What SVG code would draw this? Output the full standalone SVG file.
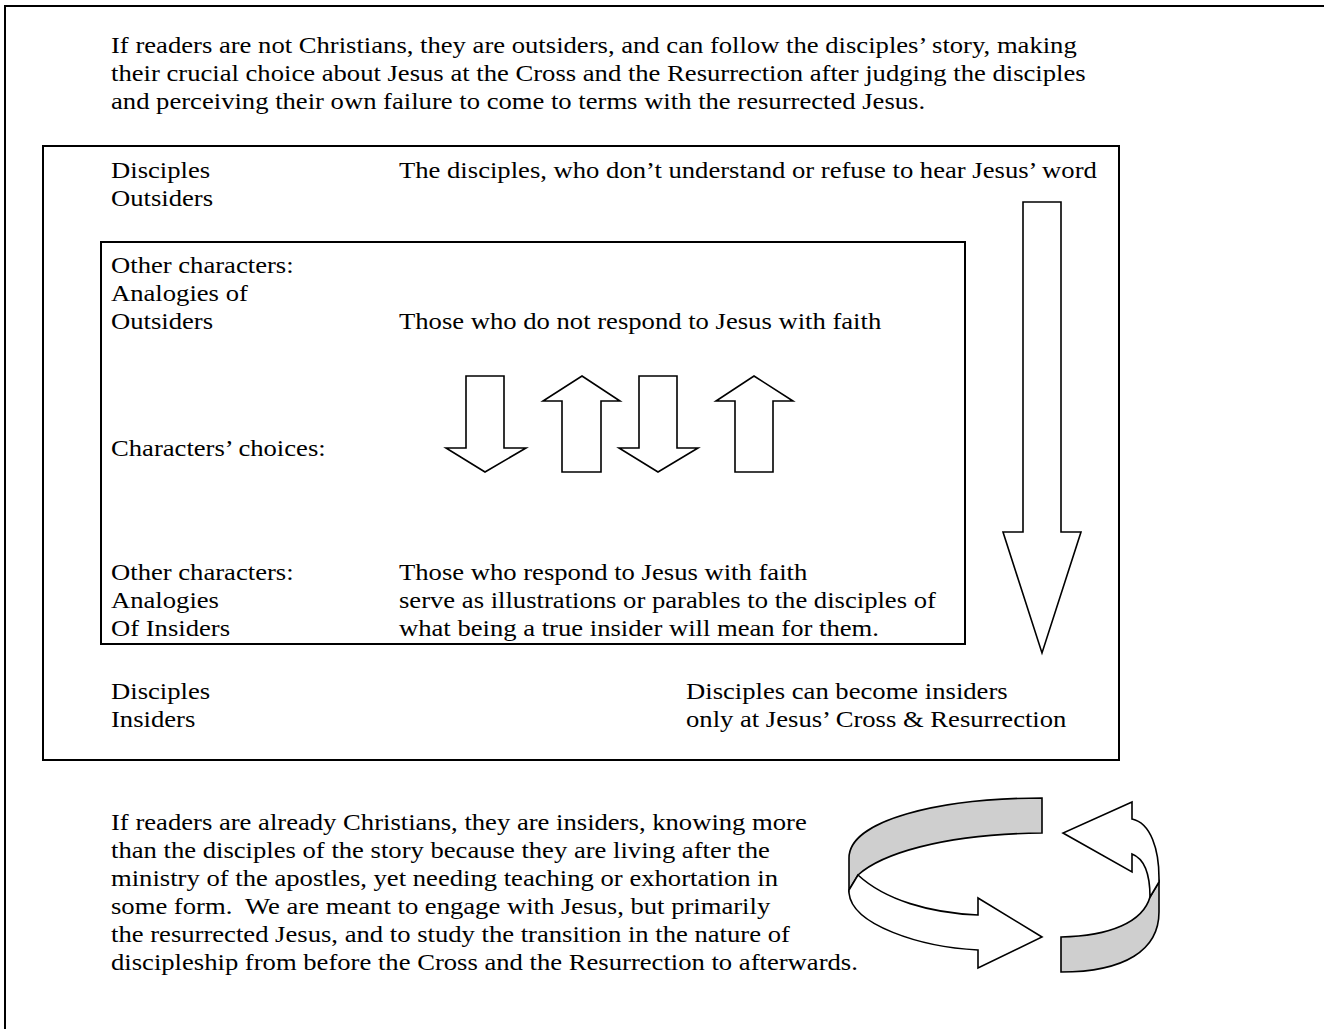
<svg xmlns="http://www.w3.org/2000/svg" width="1324" height="1029" viewBox="0 0 1324 1029">
<style>
  .t { font-family: "Liberation Serif", "Times New Roman", serif; font-size: 24px; fill: #000; }
  .frame { fill: none; stroke: #000; stroke-width: 2; }
  .arrow { fill: #fff; stroke: #000; stroke-width: 1.6; stroke-linejoin: miter; }
  .band { fill: #cfcfcf; stroke: #000; stroke-width: 1.6; stroke-linejoin: miter; }
</style>
<rect x="0" y="0" width="1324" height="1029" fill="#fff"/>

<g id="outer-frame">
  <rect class="frame" x="5" y="6" width="1340" height="1060"/>
</g>

<g id="top-paragraph">
  <text class="t" transform="translate(111,53) scale(1.11,1)">If readers are not Christians, they are outsiders, and can follow the disciples’ story, making</text>
  <text class="t" transform="translate(111,81) scale(1.11,1)">their crucial choice about Jesus at the Cross and the Resurrection after judging the disciples</text>
  <text class="t" transform="translate(111,109) scale(1.11,1)">and perceiving their own failure to come to terms with the resurrected Jesus.</text>
</g>

<g id="middle-box">
  <rect class="frame" x="43" y="146" width="1076" height="614"/>
  <text class="t" transform="translate(111,178) scale(1.11,1)">Disciples</text>
  <text class="t" transform="translate(111,206) scale(1.11,1)">Outsiders</text>
  <text class="t" transform="translate(399,178) scale(1.11,1)">The disciples, who don’t understand or refuse to hear Jesus’ word</text>
  <text class="t" transform="translate(111,699) scale(1.11,1)">Disciples</text>
  <text class="t" transform="translate(111,727) scale(1.11,1)">Insiders</text>
  <text class="t" transform="translate(686,699) scale(1.11,1)">Disciples can become insiders</text>
  <text class="t" transform="translate(686,727) scale(1.11,1)">only at Jesus’ Cross &amp; Resurrection</text>
</g>

<g id="inner-box">
  <rect class="frame" x="101" y="242" width="864" height="402" stroke-width="1.8"/>
  <text class="t" transform="translate(111,273) scale(1.11,1)">Other characters:</text>
  <text class="t" transform="translate(111,301) scale(1.11,1)">Analogies of</text>
  <text class="t" transform="translate(111,329) scale(1.11,1)">Outsiders</text>
  <text class="t" transform="translate(399,329) scale(1.11,1)">Those who do not respond to Jesus with faith</text>
  <text class="t" transform="translate(111,456) scale(1.11,1)">Characters’ choices:</text>
  <text class="t" transform="translate(111,580) scale(1.11,1)">Other characters:</text>
  <text class="t" transform="translate(111,608) scale(1.11,1)">Analogies</text>
  <text class="t" transform="translate(111,636) scale(1.11,1)">Of Insiders</text>
  <text class="t" transform="translate(399,580) scale(1.11,1)">Those who respond to Jesus with faith</text>
  <text class="t" transform="translate(399,608) scale(1.11,1)">serve as illustrations or parables to the disciples of</text>
  <text class="t" transform="translate(399,636) scale(1.11,1)">what being a true insider will mean for them.</text>
</g>

<g id="connectors">
  <polygon id="big-down-arrow" class="arrow" points="1023,202 1061,202 1061,532 1081,532 1042,653 1003,532 1023,532"/>
  <polygon id="choice-down-1" class="arrow" points="466,376 504,376 504,448 526,448 485,472 446,448 466,448"/>
  <polygon id="choice-up-1" class="arrow" points="582,376 620,401 601,401 601,472 562,472 562,401 543,401"/>
  <polygon id="choice-down-2" class="arrow" points="639,376 677,376 677,448 698,448 658,472 619,448 639,448"/>
  <polygon id="choice-up-2" class="arrow" points="754,376 793,401 773,401 773,472 735,472 735,401 716,401"/>
</g>

<g id="circular-arrow">
  <path class="band" d="M1042,798 C940,798 849,820 849,858 L849,890 L858,875 C880,855 940,834 1042,833 Z"/>
  <path class="arrow" d="M858,875 C885,900 930,913 978,915 L978,898 L1042,937 L978,968 L978,950 C920,947 852,925 849,893 L849,890 Z"/>
  <path class="band" d="M1061,937 C1110,936 1143,922 1150,897 L1159,882 L1159,912 C1159,950 1125,972 1061,972 Z"/>
  <path class="arrow" d="M1150,897 C1150,876 1145,859 1132,854 L1132,872 L1063,833 L1132,802 L1132,819 C1151,823 1159,850 1159,878 L1159,882 Z"/>
</g>

<g id="bottom-paragraph">
  <text class="t" transform="translate(111,830) scale(1.11,1)">If readers are already Christians, they are insiders, knowing more</text>
  <text class="t" transform="translate(111,858) scale(1.11,1)">than the disciples of the story because they are living after the</text>
  <text class="t" transform="translate(111,886) scale(1.11,1)">ministry of the apostles, yet needing teaching or exhortation in</text>
  <text class="t" transform="translate(111,914) scale(1.11,1)">some form.&#160; We are meant to engage with Jesus, but primarily</text>
  <text class="t" transform="translate(111,942) scale(1.11,1)">the resurrected Jesus, and to study the transition in the nature of</text>
  <text class="t" transform="translate(111,970) scale(1.11,1)">discipleship from before the Cross and the Resurrection to afterwards.</text>
</g>
</svg>
